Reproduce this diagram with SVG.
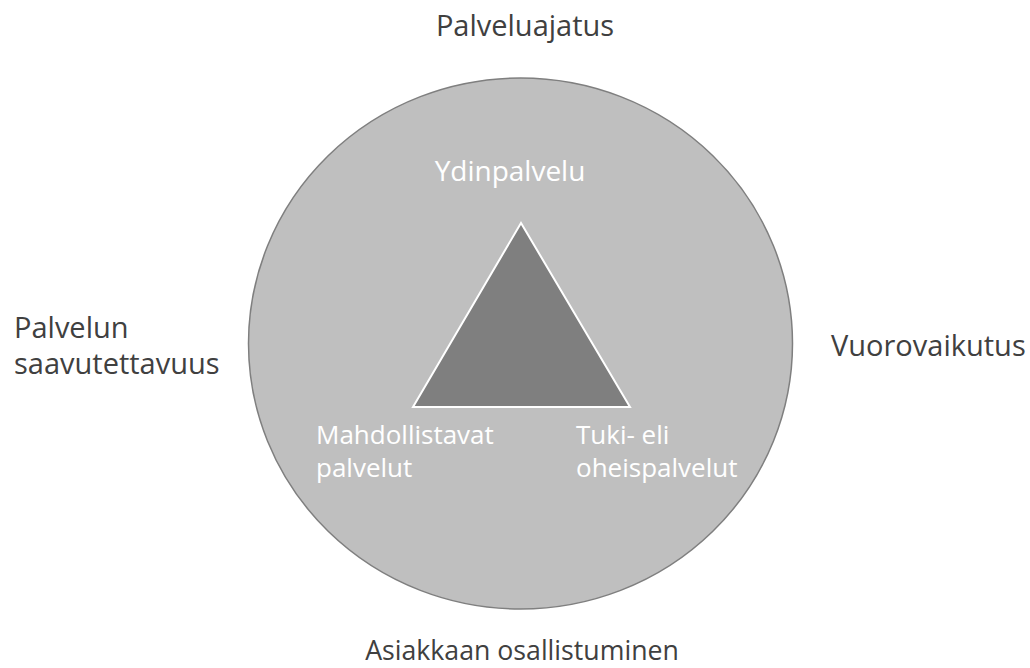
<svg xmlns="http://www.w3.org/2000/svg" width="1030" height="668" viewBox="0 0 1030 668">
<style>
.t{font-family:"Open Sans","Liberation Sans",sans-serif;font-size:29px;fill:#404040}
.w{font-family:"Open Sans","Liberation Sans",sans-serif;font-size:26px;fill:#ffffff}
</style>
<rect width="1030" height="668" fill="#ffffff"/>
<g id="circle">
<ellipse cx="520.5" cy="343.5" rx="272" ry="265.5" fill="#bfbfbf" stroke="#7f7f7f" stroke-width="1.5"/>
</g>
<g id="triangle">
<polygon points="521,223 413,407 630,407" fill="#7f7f7f" stroke="#ffffff" stroke-width="2"/>
</g>
<g id="connectors"></g>
<g id="label-top"><text class="t" x="525" y="36" text-anchor="middle">Palveluajatus</text></g>
<g id="label-left"><text class="t" x="14" y="338">Palvelun</text><text class="t" x="14" y="374">saavutettavuus</text></g>
<g id="label-right"><text class="t" x="831" y="356">Vuorovaikutus</text></g>
<g id="label-bottom"><text class="t" x="522" y="660" text-anchor="middle" style="font-size:26.7px">Asiakkaan osallistuminen</text></g>
<g id="label-core"><text class="w" x="510" y="181" text-anchor="middle" style="font-size:28px">Ydinpalvelu</text></g>
<g id="label-enabling"><text class="w" x="316" y="444">Mahdollistavat</text><text class="w" x="316" y="477">palvelut</text></g>
<g id="label-support"><text class="w" x="576" y="444">Tuki- eli</text><text class="w" x="576" y="477">oheispalvelut</text></g>
</svg>
